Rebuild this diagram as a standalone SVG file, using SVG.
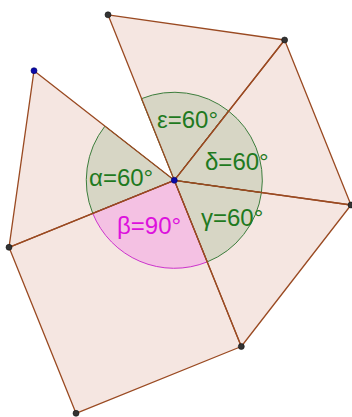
<svg xmlns="http://www.w3.org/2000/svg" width="352" height="417" viewBox="0 0 352 417">
<style>
.poly{fill:#f5e6e1;stroke:none}
.edge{fill:none;stroke:#9a4a22;stroke-width:1.3;stroke-linejoin:round}
.sg{fill:rgba(0,100,0,0.12);stroke:#3c7d3c;stroke-width:1}
.sm{fill:rgba(240,0,240,0.16);stroke:#cc33cc;stroke-width:1}
.lg{font-family:"Liberation Sans",Arial,sans-serif;font-size:24px;fill:#1f7a1f}
.lm{font-family:"Liberation Sans",Arial,sans-serif;font-size:24px;fill:#dd11dd}
.pt{fill:#333333;stroke:#111111;stroke-width:0.6}
.pb{fill:#0a0aa8;stroke:#000066;stroke-width:0.6}
</style>
<rect width="352" height="417" fill="#ffffff"/>
<g id="polygons">
<polygon id="tri-alpha" class="poly" points="174.3,180.3 34,70.7 9,247.3"/>
<polygon id="sq-beta" class="poly" points="174.3,180.3 9,247.3 76,413.3 241.3,346.5"/>
<polygon id="tri-gamma" class="poly" points="174.3,180.3 241.3,346.5 351,205"/>
<polygon id="tri-delta" class="poly" points="174.3,180.3 351,205 284.6,40"/>
<polygon id="tri-eps" class="poly" points="174.3,180.3 284.6,40 108,14.8"/>
</g>
<g id="angles">
<g id="angle-alpha"><path class="sg" d="M174.3,180.3 L92.71,213.27 A88,88 0 0 1 104.95,126.12 Z"/></g>
<g id="angle-eps"><path class="sg" d="M174.3,180.3 L141.33,98.71 A88,88 0 0 1 228.48,110.95 Z"/></g>
<g id="angle-delta"><path class="sg" d="M174.3,180.3 L228.48,110.95 A88,88 0 0 1 261.44,192.55 Z"/></g>
<g id="angle-gamma"><path class="sg" d="M174.3,180.3 L261.44,192.55 A88,88 0 0 1 207.27,261.89 Z"/></g>
<g id="angle-beta"><path class="sm" d="M174.3,180.3 L207.27,261.89 A88,88 0 0 1 92.71,213.27 Z"/></g>
</g>
<g id="connectors">
<polygon class="edge" points="174.3,180.3 34,70.7 9,247.3"/>
<polygon class="edge" points="174.3,180.3 9,247.3 76,413.3 241.3,346.5"/>
<polygon class="edge" points="174.3,180.3 241.3,346.5 351,205"/>
<polygon class="edge" points="174.3,180.3 351,205 284.6,40"/>
<polygon class="edge" points="174.3,180.3 284.6,40 108,14.8"/>
</g>
<g id="labels">
<text class="lg" x="89" y="186">α=60°</text>
<text class="lm" x="117" y="234">β=90°</text>
<text class="lg" x="201" y="226">γ=60°</text>
<text class="lg" x="205" y="170">δ=60°</text>
<text class="lg" x="157" y="128">ε=60°</text>
</g>
<g id="points">
<circle id="pt-A" class="pb" cx="34" cy="70.7" r="3"/>
<circle id="pt-B" class="pt" cx="108" cy="14.8" r="3"/>
<circle id="pt-C" class="pt" cx="284.6" cy="40" r="3"/>
<circle id="pt-D" class="pt" cx="351" cy="205" r="3"/>
<circle id="pt-E" class="pt" cx="241.3" cy="346.5" r="3"/>
<circle id="pt-F" class="pt" cx="76" cy="413.3" r="3"/>
<circle id="pt-G" class="pt" cx="9" cy="247.3" r="3"/>
<circle id="pt-O" class="pb" cx="174.3" cy="180.3" r="3"/>
</g>
</svg>
